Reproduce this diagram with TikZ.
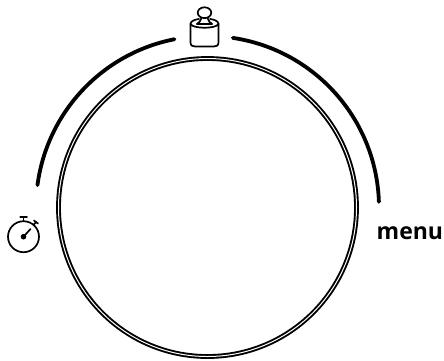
\documentclass[tikz,border=0pt]{standalone}
\usepackage{fontspec}
\setsansfont{Open Sans}
\usetikzlibrary{positioning}

\begin{document}
\begin{tikzpicture}[
    x=1pt, y=-1pt,
    band/.style={line width=3.8pt, line cap=round},
    ring/.style={draw, circle, double, double distance=1pt, line width=1.9pt,
                 minimum size=298pt, inner sep=0pt},
    icon/.style={line width=1.7pt, line join=round, line cap=round},
    label/.style={font=\sffamily\bfseries\fontsize{23}{23}\selectfont, inner sep=0pt}
  ]
  \useasboundingbox (0,0) rectangle (444,360);
  \coordinate (centre) at (207.5,207.5);
  % Dial ring
  \node[ring] (dial) at (centre) {};
  % Outer arcs
  \draw[band] (centre) ++(187.5:171.5) arc[start angle=187.5, end angle=258.9, radius=171.5];
  \draw[band] (centre) ++(278.5:171.5) arc[start angle=278.5, end angle=358.1, radius=171.5];
  % Weight
  \draw[icon] (204.5,12.7) ellipse[x radius=6.8, y radius=5.4];
  \draw[icon] (190.5,24) .. controls (190.5,21) and (195,19.5) .. (199,19);
  \draw[icon] (218.5,24) .. controls (218.5,21) and (214,19.5) .. (210,19);
  \draw[icon] (190.5,24) .. controls (193,29) and (216,29) .. (218.5,24);
  \draw[icon] (190.5,24) -- (190.5,42) .. controls (190.5,45.5) and (192,46.5) .. (195,46.5)
    -- (214,46.5) .. controls (217,46.5) and (218.5,45.5) .. (218.5,42) -- (218.5,24);
  \draw[icon] (201.5,18) .. controls (201,21) and (198.5,23) .. (197,24);
  \draw[icon] (207.5,18) .. controls (208,21) and (210.5,23) .. (212,24);
  \draw[icon] (197,24) -- (212,24);
  % Stopwatch
  \draw[icon] (23.5,236.7) circle[radius=15.5];
  \draw[icon] (20.2,217.3) -- (27,217.3);
  \draw[icon] (23.5,217.3) -- (23.5,221);
  \draw[icon] (33.5,225) -- (36,222);
  \draw[icon] (34,220.5) -- (38,223.5);
  \draw[icon] (23.5,236.7) -- (30.5,229);
  \fill (23.5,236.7) circle[radius=2.8];
  % Label
  \node[label, anchor=base west] (menu) at (376.5,239) {menu};
\end{tikzpicture}
\end{document}
